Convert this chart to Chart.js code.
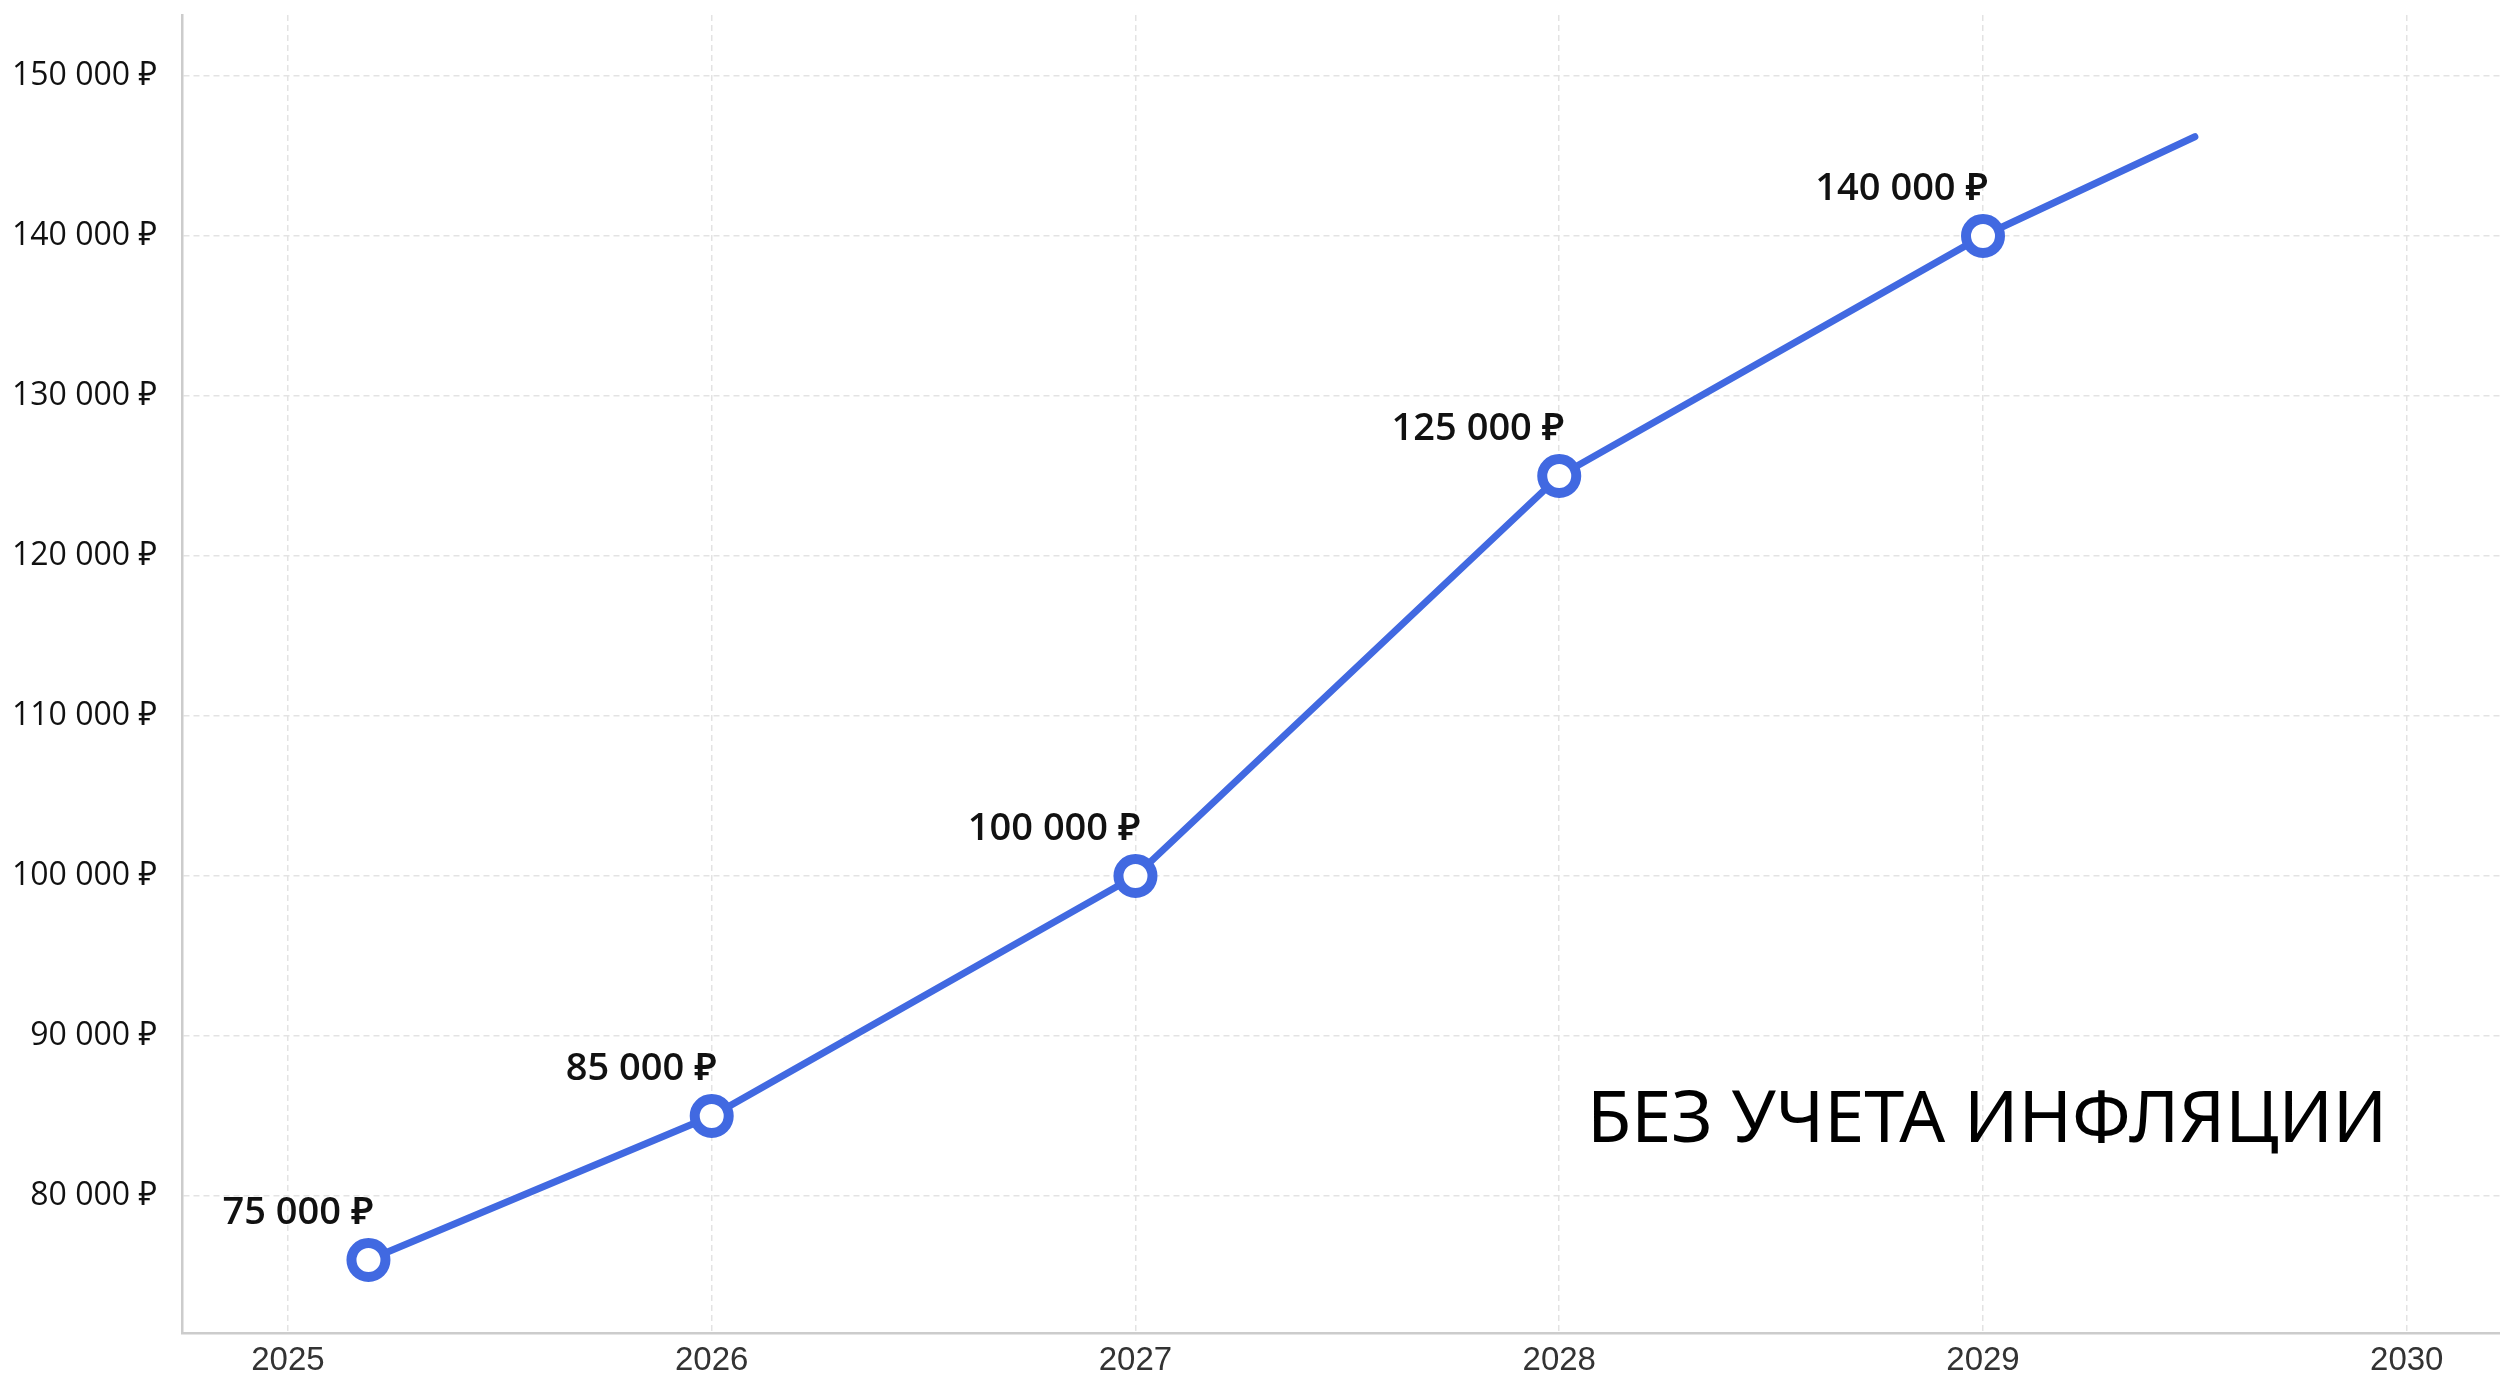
<!DOCTYPE html>
<html>
<head>
<meta charset="utf-8">
<script src="https://cdn.jsdelivr.net/npm/chart.js@4/dist/chart.umd.min.js"></script>
<style>
  body { margin: 0; background: #fff; }
  #wrap { width: 2500px; height: 1376px; }
</style>
</head>
<body>
<div id="wrap"><canvas id="chart" width="2500" height="1376"></canvas></div>
<script>
// data
const years = [2025.19, 2026, 2027, 2028, 2029, 2029.5];
const salary = [76000, 85000, 100000, 125000, 140000, 146200];
const pointLabels = ['75 000 ₽', '85 000 ₽', '100 000 ₽', '125 000 ₽', '140 000 ₽', ''];
const yearTicks = [2025, 2026, 2027, 2028, 2029, 2030];
const moneyTicks = [80000, 90000, 100000, 110000, 120000, 130000, 140000, 150000];
const note = 'БЕЗ УЧЕТА ИНФЛЯЦИИ';

const blue = '#4169E1';

function rub(v) {
  return String(v).replace(/\B(?=(\d{3})+(?!\d))/g, ' ') + ' ₽';
}

const labelsPlugin = {
  id: 'pointLabels',
  afterDatasetsDraw(chart) {
    const ctx = chart.ctx;
    const meta = chart.getDatasetMeta(0);
    ctx.save();
    ctx.font = '600 38px "Open Sans", "Noto Sans", sans-serif';
    ctx.fillStyle = '#111';
    ctx.textAlign = 'right';
    ctx.textBaseline = 'alphabetic';
    meta.data.forEach((pt, i) => {
      if (!pointLabels[i]) return;
      ctx.fillText(pointLabels[i], pt.x + 5, pt.y - 36);
    });
    ctx.restore();
  },
  afterDraw(chart) {
    const ctx = chart.ctx;
    const area = chart.chartArea;
    ctx.save();
    ctx.font = '400 72px "Noto Sans", "Open Sans", sans-serif';
    ctx.fillStyle = '#000';
    ctx.textAlign = 'left';
    ctx.textBaseline = 'alphabetic';
    ctx.fillText(note, area.left + 1405, area.bottom - 191);
    ctx.restore();
  }
};

new Chart(document.getElementById('chart'), {
  type: 'line',
  data: {
    datasets: [{
      data: years.map((x, i) => ({ x: x, y: salary[i] })),
      borderColor: blue,
      borderWidth: 7,
      borderCapStyle: 'round',
      tension: 0,
      pointRadius: salary.map((v, i) => pointLabels[i] ? 17 : 0),
      pointBorderWidth: 10,
      pointBorderColor: blue,
      pointBackgroundColor: '#fff',
      clip: false
    }]
  },
  options: {
    responsive: false,
    animation: false,
    devicePixelRatio: 1,
    layout: { autoPadding: false, padding: { top: 15, right: 0, left: 0, bottom: 0 } },
    plugins: { legend: { display: false }, tooltip: { enabled: false } },
    scales: {
      x: {
        type: 'linear',
        min: 2024.75,
        max: 2030.22,
        afterBuildTicks: s => { s.ticks = yearTicks.map(v => ({ value: v })); },
        afterFit: s => { s.height = 43; s.paddingLeft = 0; s.paddingRight = 0; },
        ticks: {
          padding: 8,
          color: '#333',
          font: { family: '"Liberation Sans", Arial, sans-serif', size: 33 },
          callback: v => String(v),
          maxRotation: 0
        },
        grid: { color: '#e3e3e3', lineWidth: 1.5, drawTicks: false },
        border: { color: '#cccccc', width: 2.5, dash: [6, 4] }
      },
      y: {
        min: 71440,
        max: 153810,
        afterBuildTicks: s => { s.ticks = moneyTicks.map(v => ({ value: v })); },
        afterFit: s => { s.width = 182; s.paddingTop = 0; s.paddingBottom = 0; },
        ticks: {
          padding: 25,
          color: '#111',
          font: { family: '"Open Sans", "Noto Sans", sans-serif', size: 32 },
          callback: v => rub(v)
        },
        grid: { color: '#e3e3e3', lineWidth: 1.5, drawTicks: false },
        border: { color: '#cccccc', width: 2.5, dash: [6, 4] }
      }
    }
  },
  plugins: [labelsPlugin]
});
</script>
</body>
</html>
